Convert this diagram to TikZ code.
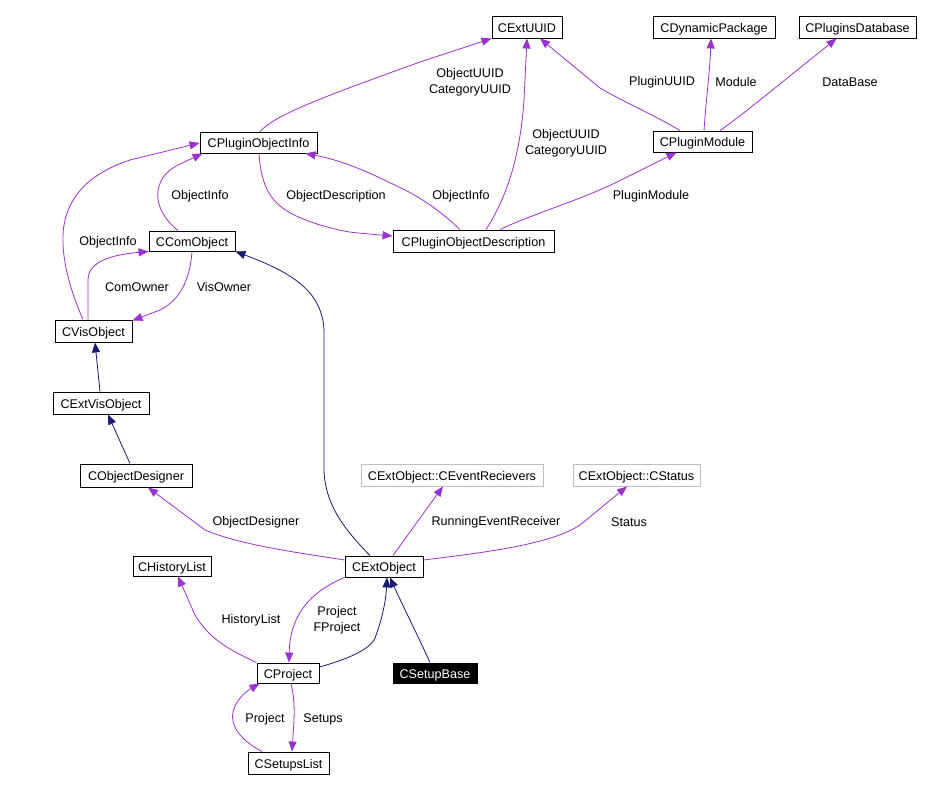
\documentclass[tikz,border=0pt]{standalone}
\usepackage{fontspec}
\setmainfont{Liberation Sans}
\usetikzlibrary{arrows.meta,calc}
\definecolor{usecol}{HTML}{9A32CD}
\definecolor{inhcol}{HTML}{191970}
\definecolor{grayb}{HTML}{BFBFBF}
\tikzset{
  cls/.style={draw=black, line width=0.9pt, fill=white, minimum height=21pt, inner sep=0pt, text height=10.5pt, text depth=0pt, font=\fontsize{12.6}{14.5}\selectfont},
  ext/.style={cls, draw=grayb},
  cur/.style={cls, fill=black, text=white},
  lbl/.style={font=\fontsize{12.6}{16}\selectfont, align=center, inner sep=0pt},
  use/.style={draw=usecol, line width=0.8pt, -{Triangle[length=10pt,width=8pt]}},
  inh/.style={draw=inhcol, line width=0.8pt, -{Triangle[length=10pt,width=8pt]}}
}
\begin{document}
\begin{tikzpicture}[x=1pt,y=-1pt]
\useasboundingbox[fill=white] (0,0) rectangle (928,791);
% classes
\node[cls, minimum width=70pt, minimum height=22pt] (uuid) at (527,27) {CExtUUID};
\node[cls, minimum width=122pt, minimum height=22pt] (dyn) at (714,27) {CDynamicPackage};
\node[cls, minimum width=117pt, minimum height=22pt] (db) at (857.5,27) {CPluginsDatabase};
\node[cls, minimum width=99pt] (pmod) at (702.5,141.5) {CPluginModule};
\node[cls, minimum width=117pt] (pinfo) at (258.5,142.5) {CPluginObjectInfo};
\node[cls, minimum width=161pt, minimum height=22pt] (pdesc) at (473.5,241) {CPluginObjectDescription};
\node[cls, minimum width=86pt, minimum height=20pt] (ccom) at (192,241) {CComObject};
\node[cls, minimum width=77pt, minimum height=22pt] (vis) at (93.5,331) {CVisObject};
\node[cls, minimum width=96pt, minimum height=22pt] (evis) at (101,403) {CExtVisObject};
\node[cls, minimum width=112pt, minimum height=23pt] (odes) at (136,475.5) {CObjectDesigner};
\node[ext, minimum width=182pt, minimum height=22pt] (evr) at (452,475) {CExtObject::CEventRecievers};
\node[ext, minimum width=127pt, minimum height=22pt] (stat) at (636.5,475) {CExtObject::CStatus};
\node[cls, minimum width=78pt] (eobj) at (384,566.5) {CExtObject};
\node[cls, minimum width=78pt, minimum height=20pt] (hist) at (172,566) {CHistoryList};
\node[cls, minimum width=62pt, minimum height=20pt] (proj) at (288,673) {CProject};
\node[cur, minimum width=84pt, minimum height=20pt] (sbase) at (435,673) {CSetupBase};
\node[cls, minimum width=81pt, minimum height=22pt] (slist) at (288.5,763) {CSetupsList};
% labels
\node[lbl] (l1) at (470,82) {ObjectUUID\\CategoryUUID};
\node[lbl] (l2) at (566,143) {ObjectUUID\\CategoryUUID};
\node[lbl] (l3) at (662,82) {PluginUUID};
\node[lbl] (l4) at (736,82) {Module};
\node[lbl] (l5) at (850,82) {DataBase};
\node[lbl] (l6) at (651,196) {PluginModule};
\node[lbl] (l7) at (336,196) {ObjectDescription};
\node[lbl] (l8) at (461,196) {ObjectInfo};
\node[lbl] (l9) at (200,196) {ObjectInfo};
\node[lbl] (l10) at (108,242) {ObjectInfo};
\node[lbl] (l11) at (137,287) {ComOwner};
\node[lbl] (l12) at (224,287) {VisOwner};
\node[lbl] (l13) at (256,522) {ObjectDesigner};
\node[lbl] (l14) at (496,522) {RunningEventReceiver};
\node[lbl] (l15) at (629,522) {Status};
\node[lbl] (l16) at (251,620) {HistoryList};
\node[lbl] (l17) at (337,620) {Project\\FProject};
\node[lbl] (l18) at (265,719) {Project};
\node[lbl] (l19) at (323,719) {Setups};
% usage edges
\draw[use] ($(pinfo.north)+(1.5,0)$) .. controls (275,115) and (320,98) .. (420,62) -- (uuid.south west);
\draw[use] ($(pdesc.north)+(12.5,0)$) .. controls (505,200) and (520,160) .. (524,100) -- (uuid.south);
\draw[use] ($(pmod.north)+(-22.5,0)$) .. controls (660,118) and (620,100) .. (600,88) -- ($(uuid.south)+(13,0)$);
\draw[use] ($(pmod.north)+(1.5,0)$) .. controls (706,100) and (710,70) .. ($(dyn.south)+(-3,0)$);
\draw[use] ($(pmod.north)+(17.5,0)$) .. controls (735,120) and (750,108) .. (770,92) -- ($(db.south)+(-21,0)$);
\draw[use] ($(pdesc.north)+(26.5,0)$) .. controls (530,215) and (580,200) .. (615,183) -- ($(pmod.south)+(-26,0)$);
\draw[use] ($(pinfo.south)+(0.5,0)$) .. controls (262,200) and (280,212) .. (320,225) .. controls (345,232) .. ($(pdesc.west)+(0,-5)$);
\draw[use] ($(pdesc.north)+(-13.5,0)$) .. controls (445,215) and (425,200) .. (405,190) .. controls (380,178) and (350,162) .. ($(pinfo.south east)+(-12,0)$);
\draw[use] ($(ccom.north)+(-14,0)$) .. controls (150,208) and (152,178) .. (178,165) -- ($(pinfo.south west)+(3,0)$);
\draw[use] ($(vis.north)+(-10.5,0)$) .. controls (70,290) and (62,260) .. (63,235) .. controls (65,190) and (100,170) .. (130,160) -- ($(pinfo.west)+(0,0.5)$);
\draw[use] ($(vis.north)+(-5.5,0)$) -- (88,280) .. controls (88,262) and (110,255) .. (ccom.south west);
\draw[use] (ccom.south) .. controls (190,280) and (180,300) .. (160,310) -- ($(vis.north east)+(0,1)$);
\draw[use] ($(eobj.west)+(0,-6.5)$) .. controls (300,553) and (240,545) .. (205,530) -- ($(odes.south)+(12,0)$);
\draw[use] ($(eobj.north)+(9,0)$) .. controls (402,543) and (420,518) .. ($(evr.south)+(-9,0)$);
\draw[use] ($(eobj.east)+(0,-6.5)$) .. controls (480,553) and (550,545) .. (580,525) -- ($(stat.south)+(-9.5,0)$);
\draw[use] (proj.north west) .. controls (230,650) and (210,640) .. (195,615) -- ($(hist.south)+(6,0)$);
\draw[use] (eobj.south west) .. controls (310,592) and (290,615) .. ($(proj.north)+(1,0)$);
\draw[use] ($(slist.north)+(-26.5,0)$) .. controls (240,740) and (230,725) .. (233,712) .. controls (236,700) and (245,692) .. ($(proj.south west)+(3,0)$);
\draw[use] ($(proj.south)+(3,0)$) .. controls (296,705) and (294,720) .. ($(slist.north)+(3.5,0)$);
% inheritance edges
\draw[inh] ($(evis.north)+(-1,0)$) -- ($(vis.south)+(1.5,0)$);
\draw[inh] ($(odes.north)+(-6,0)$) -- ($(evis.south)+(7,0)$);
\draw[inh] ($(eobj.north)+(-14,0)$) .. controls (345,530) and (325,505) .. (324,470) -- (324,330) .. controls (322,290) and (290,272) .. (ccom.south east);
\draw[inh] ($(proj.east)+(0,-6)$) .. controls (345,660) and (370,650) .. (375,638) .. controls (382,620) and (386,600) .. ($(eobj.south)+(3,0)$);
\draw[inh] ($(sbase.north)+(-5,0)$) .. controls (420,640) and (400,600) .. ($(eobj.south)+(6,0)$);
\end{tikzpicture}
\end{document}
